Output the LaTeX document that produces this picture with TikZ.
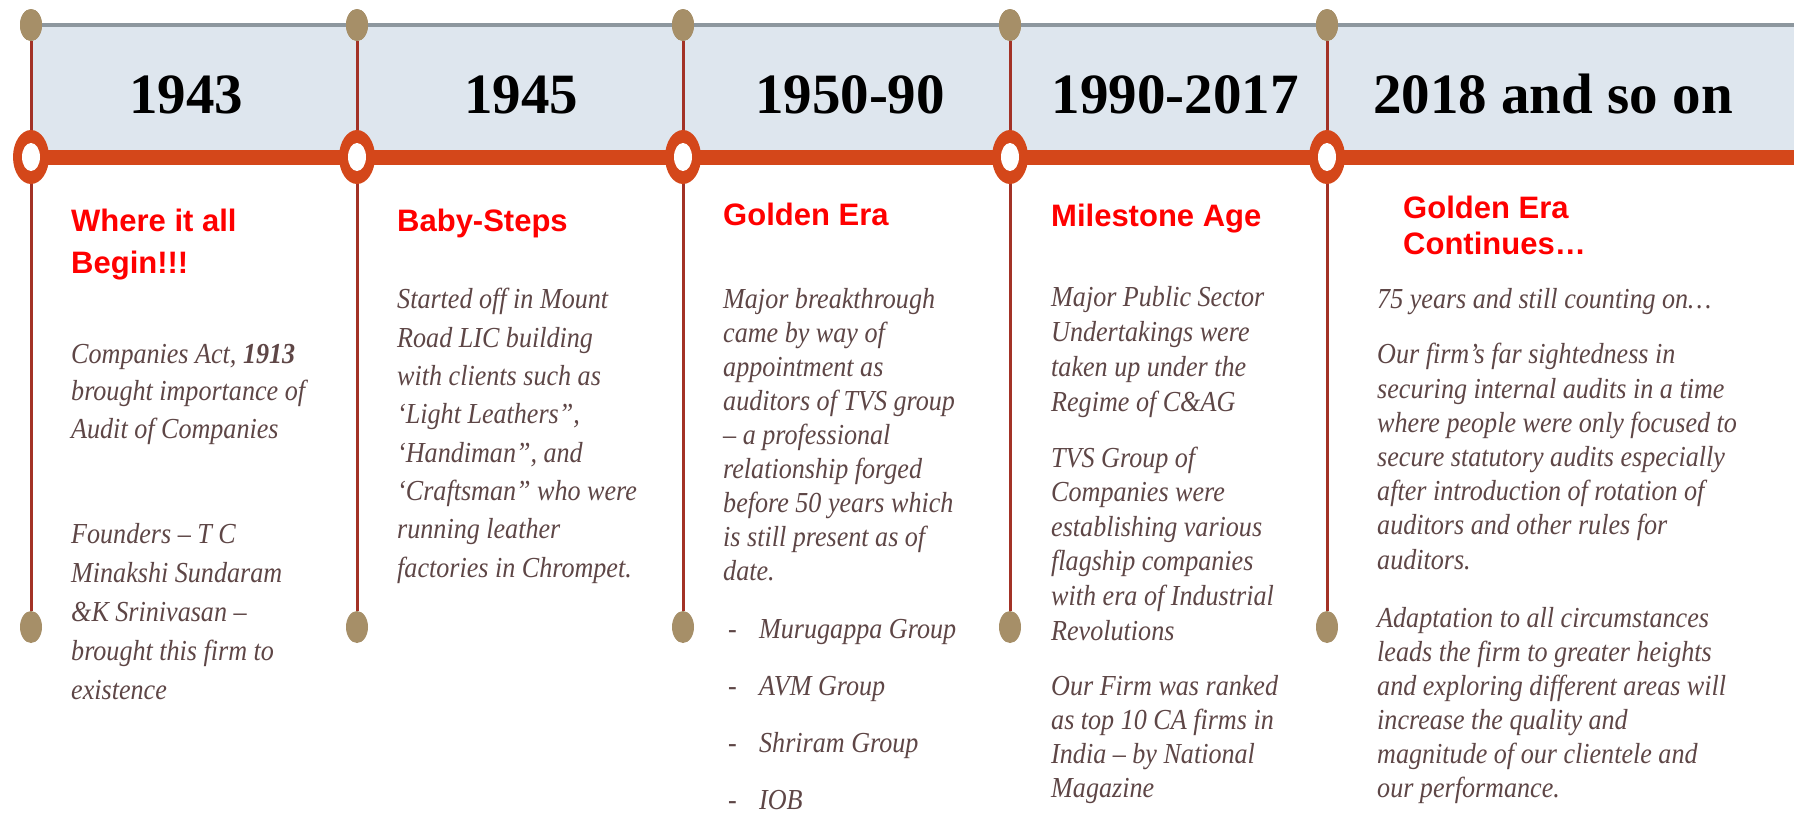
\documentclass[tikz,border=0pt]{standalone}
\usepackage{fontspec}
\setmainfont{Liberation Serif}
\newfontfamily\bodyfont[FakeStretch=0.9]{Liberation Serif}
\newfontfamily\headfont{Liberation Sans}
\usetikzlibrary{shapes.geometric,positioning}

\definecolor{bandblue}{RGB}{222,230,238}
\definecolor{bandgrey}{RGB}{141,151,158}
\definecolor{lineorange}{RGB}{212,71,26}
\definecolor{stemred}{RGB}{163,50,38}
\definecolor{dotbeige}{RGB}{166,143,104}
\definecolor{headred}{RGB}{255,0,0}
\definecolor{bodybrown}{RGB}{94,70,70}

\tikzset{
  topdot/.style={ellipse, fill=dotbeige, minimum width=22pt, minimum height=32pt, inner sep=0},
  stem/.style={draw=stemred, line width=3pt},
  timeline/.style={draw=lineorange, line width=15pt},
  year/.style={font=\bfseries\fontsize{57}{60}\selectfont, text=black, inner sep=0, anchor=base},
  heading/.style={font=\headfont\bfseries\fontsize{31}{#1}\selectfont, text=headred, anchor=base west, align=left, inner sep=0},
  heading/.default=40,
  body/.style={font=\bodyfont\itshape\fontsize{29}{#1}\selectfont, text=bodybrown, anchor=base west, align=left, inner sep=0},
  body/.default=34
}

\newcommand{\drawring}[1]{%
  \fill[lineorange] (#1) ellipse (18pt and 27pt);
  \fill[white] (#1) ellipse (9pt and 14pt);}

\begin{document}
\begin{tikzpicture}[x=1pt, y=-1pt]
    \useasboundingbox[fill=white] (0,0) rectangle (1794,812);

    % band across the top
    \fill[bandblue] (31,25) rectangle (1794,150);
    \draw[bandgrey, line width=4pt] (31,25) -- (1794,25);
    \coordinate (start) at (31,157);
    \coordinate (end) at (1794,157);
    \draw[timeline] (start) -- (end);

    % 1943 (multi-line nodes sit on the baseline of their last line)
    \begin{scope}[xshift=31pt]
        \node[topdot] (d1) at (0,25) {};
        \node[topdot] (b1) at (0,627) {};
        \coordinate (r1) at (0,157);
        \draw[stem] (d1) -- (b1);
        \drawring{r1}
        \node[topdot] at (d1) {};
        \node[year] (y1) at (155,113) {1943};
        \node[heading=42] (h1) at (40,273) {Where it all\\Begin!!!};
        \node[body=37.5] (t1a) at (40,438) {Companies Act, \textbf{1913}\\brought importance of\\Audit of Companies};
        \node[body=39] (t1b) at (40,699) {Founders – T C\\Minakshi Sundaram\\\&K Srinivasan –\\brought this firm to\\existence};
    \end{scope}

    % 1945
    \begin{scope}[xshift=357pt]
        \node[topdot] (d2) at (0,25) {};
        \node[topdot] (b2) at (0,627) {};
        \coordinate (r2) at (0,157);
        \draw[stem] (d2) -- (b2);
        \drawring{r2}
        \node[topdot] at (d2) {};
        \node[year] (y2) at (164,113) {1945};
        \node[heading] (h2) at (40,231) {Baby-Steps};
        \node[body=38.3] (t2a) at (40,577) {Started off in Mount\\Road LIC building\\with clients such as\\‘Light Leathers”,\\‘Handiman”, and\\‘Craftsman” who were\\running leather\\factories in Chrompet.};
    \end{scope}

    % 1950-90
    \begin{scope}[xshift=683pt]
        \node[topdot] (d3) at (0,25) {};
        \node[topdot] (b3) at (0,627) {};
        \coordinate (r3) at (0,157);
        \draw[stem] (d3) -- (b3);
        \drawring{r3}
        \node[topdot] at (d3) {};
        \node[year] (y3) at (167,113) {1950-90};
        \node[heading] (h3) at (40,225) {Golden Era};
        \node[body=33.9] (t3a) at (40,580) {Major breakthrough\\came by way of\\appointment as\\auditors of TVS group\\– a professional\\relationship forged\\before 50 years which\\is still present as of\\date.};
        \node[body=57] (t3b) at (45,809) {\makebox[31pt][l]{-}Murugappa Group\\\makebox[31pt][l]{-}AVM Group\\\makebox[31pt][l]{-}Shriram Group\\\makebox[31pt][l]{-}IOB};
    \end{scope}

    % 1990-2017
    \begin{scope}[xshift=1010pt]
        \node[topdot] (d4) at (0,25) {};
        \node[topdot] (b4) at (0,627) {};
        \coordinate (r4) at (0,157);
        \draw[stem] (d4) -- (b4);
        \drawring{r4}
        \node[topdot] at (d4) {};
        \node[year] (y4) at (165,113) {1990-2017};
        \node[heading] (h4) at (41,226) {Milestone Age};
        \node[body=34.7] (t4a) at (41,411) {Major Public Sector\\Undertakings were\\taken up under the\\Regime of C\&AG};
        \node[body=34.6] (t4b) at (41,640) {TVS Group of\\Companies were\\establishing various\\flagship companies\\with era of Industrial\\Revolutions};
        \node[body=33.7] (t4c) at (41,797) {Our Firm was ranked\\as top 10 CA firms in\\India – by National\\Magazine};
    \end{scope}

    % 2018 and so on
    \begin{scope}[xshift=1327pt]
        \node[topdot] (d5) at (0,25) {};
        \node[topdot] (b5) at (0,627) {};
        \coordinate (r5) at (0,157);
        \draw[stem] (d5) -- (b5);
        \drawring{r5}
        \node[topdot] at (d5) {};
        \node[year] (y5) at (226,113) {2018 and so on};
        \node[heading=36] (h5) at (76,254) {Golden Era\\Continues…};
        \node[body] (t5a) at (50,308) {75 years and still counting on…};
        \node[body=34.2] (t5b) at (50,569) {Our firm’s far sightedness in\\securing internal audits in a time\\where people were only focused to\\secure statutory audits especially\\after introduction of rotation of\\auditors and other rules for\\auditors.};
        \node[body=34] (t5c) at (50,797) {Adaptation to all circumstances\\leads the firm to greater heights\\and exploring different areas will\\increase the quality and\\magnitude of our clientele and\\our performance.};
    \end{scope}
\end{tikzpicture}
\end{document}
